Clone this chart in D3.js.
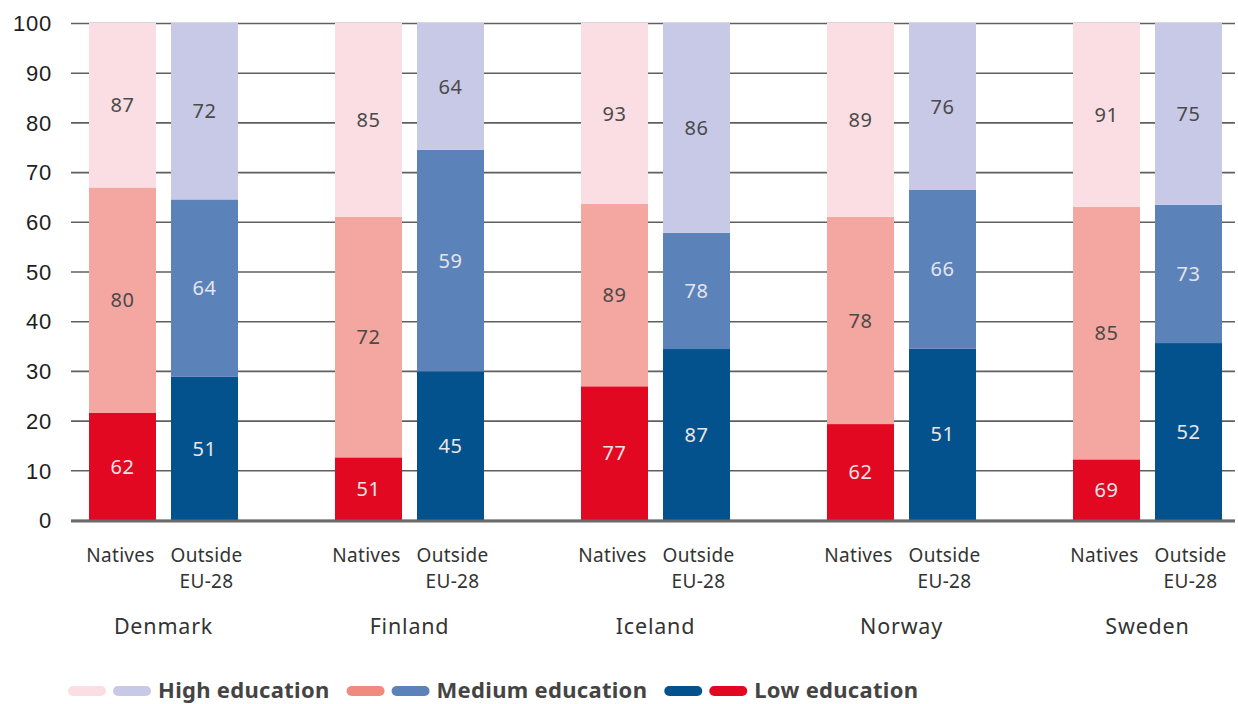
<!DOCTYPE html>
<html>
<head>
<meta charset="utf-8">
<script src="https://cdn.jsdelivr.net/npm/d3@7"></script>
<style>
  html, body { margin: 0; padding: 0; background: #fff; }
  svg { display: block; font-family: "Noto Sans", "Open Sans", sans-serif; }
</style>
</head>
<body>
<svg id="chart" width="1238" height="704"></svg>
<script>
// Countries and population groups
const countries = ["Denmark", "Finland", "Iceland", "Norway", "Sweden"];
const groups = ["Natives", "Outside EU-28"];
const levels = ["low", "medium", "high"];
const yTicks = [0, 10, 20, 30, 40, 50, 60, 70, 80, 90, 100];

// Share of each education level in the population (%), segment heights
const lowShareNatives    = [21.6, 12.6, 26.9, 19.3, 12.2];
const mediumShareNatives = [45.3, 48.4, 36.7, 41.7, 50.8];
const highShareNatives   = [33.1, 39.0, 36.4, 39.0, 37.0];
const lowShareOutside    = [28.8, 29.9, 34.4, 34.5, 35.6];
const mediumShareOutside = [35.7, 44.6, 23.4, 31.9, 27.8];
const highShareOutside   = [35.5, 25.5, 42.2, 33.6, 36.6];

// Employment rate of each education level (%), printed inside segments
const lowRateNatives    = [62, 51, 77, 62, 69];
const mediumRateNatives = [80, 72, 89, 78, 85];
const highRateNatives   = [87, 85, 93, 89, 91];
const lowRateOutside    = [51, 45, 87, 51, 52];
const mediumRateOutside = [64, 59, 78, 66, 73];
const highRateOutside   = [72, 64, 86, 76, 75];

// Legend entries
const legendLabels = ["High education", "Medium education", "Low education"];

const colors = {
  "Natives":       { low: "#e30822", medium: "#f4a6a0", high: "#fbdee3" },
  "Outside EU-28": { low: "#03528e", medium: "#5b83ba", high: "#c8c9e6" }
};
const legendSwatches = [
  ["#fbdee3", "#c8c9e6"],
  ["#f08a7e", "#5b83ba"],
  ["#03528e", "#e30822"]
];
const labelColor = { low: "#ebe6e6", medium: { "Natives": "#4a4a4a", "Outside EU-28": "#e6e4ea" }, high: "#4a4a4a" };

const shares = {
  "Natives":       { low: lowShareNatives, medium: mediumShareNatives, high: highShareNatives },
  "Outside EU-28": { low: lowShareOutside, medium: mediumShareOutside, high: highShareOutside }
};
const rates = {
  "Natives":       { low: lowRateNatives, medium: mediumRateNatives, high: highRateNatives },
  "Outside EU-28": { low: lowRateOutside, medium: mediumRateOutside, high: highRateOutside }
};

// Build a flat table of stacked segments
const rows = [];
countries.forEach((c, i) => {
  groups.forEach(g => {
    let acc = 0;
    levels.forEach(l => {
      const v = shares[g][l][i];
      rows.push({ country: c, group: g, level: l, y0: acc, y1: acc + v, rate: rates[g][l][i] });
      acc += v;
    });
  });
});

const svg = d3.select("#chart");
const plotLeft = 71, plotRight = 1235;

const y = d3.scaleLinear().domain([0, 100]).range([520, 23]);
const x0 = d3.scaleBand().domain(countries).range([89, 1222]).paddingInner(97 / 246).paddingOuter(0);
const x1 = d3.scaleBand().domain(groups).range([0, x0.bandwidth()]).paddingInner(15 / 82).paddingOuter(0);

// Gridlines and value axis
const yAxis = d3.axisLeft(y).tickValues(yTicks).tickSize(-(plotRight - plotLeft)).tickPadding(19);
const gAxis = svg.append("g").attr("transform", `translate(${plotLeft},0)`).call(yAxis);
gAxis.select(".domain").remove();
gAxis.selectAll(".tick line").attr("stroke", "#5f5f5f").attr("stroke-width", 1.6);
gAxis.selectAll(".tick text")
  .attr("fill", "#1e1e1e").style("font-size", "22px").style("letter-spacing", "0.8px").attr("dy", "0.35em");

// Bars
svg.append("g").selectAll("rect").data(rows).join("rect")
  .attr("x", d => x0(d.country) + x1(d.group))
  .attr("width", x1.bandwidth())
  .attr("y", d => y(d.y1) - 2)
  .attr("height", d => y(d.y0) - y(d.y1))
  .attr("fill", d => colors[d.group][d.level])
  .attr("transform", "translate(0,2)");

// Baseline
svg.append("line")
  .attr("x1", plotLeft).attr("x2", plotRight)
  .attr("y1", y(0) + 1).attr("y2", y(0) + 1)
  .attr("stroke", "#6a6a6a").attr("stroke-width", 3);

// Segment labels
svg.append("g").selectAll("text").data(rows).join("text")
  .attr("x", d => x0(d.country) + x1(d.group) + x1.bandwidth() / 2)
  .attr("y", d => (y(d.y0) + y(d.y1)) / 2)
  .attr("dy", "0.36em")
  .attr("text-anchor", "middle")
  .style("font-size", "20px")
  .style("letter-spacing", "0.5px")
  .attr("fill", d => d.level === "medium" ? labelColor.medium[d.group] : labelColor[d.level])
  .text(d => d.rate);

// Group labels under each bar
const catG = svg.append("g").style("font-size", "19px").style("letter-spacing", "0.3px").attr("fill", "#333");
countries.forEach(c => {
  groups.forEach(g => {
    const cx = x0(c) + x1(g) + x1.bandwidth() / 2 + (g === "Natives" ? -2 : 2);
    const parts = g === "Natives" ? ["Natives"] : ["Outside", "EU-28"];
    parts.forEach((p, k) => {
      catG.append("text").attr("x", cx).attr("y", 562 + k * 26)
        .attr("text-anchor", "middle").text(p);
    });
  });
});

// Country names
svg.append("g").selectAll("text").data(countries).join("text")
  .attr("x", c => x0(c) + x0.bandwidth() / 2)
  .attr("y", 634)
  .attr("text-anchor", "middle")
  .style("font-size", "21.5px")
  .style("letter-spacing", "0.8px")
  .attr("fill", "#333")
  .text(c => c);

// Legend
const lg = svg.append("g").attr("transform", "translate(68,691)");
let lx = 0;
legendLabels.forEach((lab, i) => {
  legendSwatches[i].forEach((col, k) => {
    lg.append("rect").attr("x", lx).attr("y", -5).attr("width", 38).attr("height", 10)
      .attr("rx", 5).attr("fill", col);
    lx += 45;
  });
  const t = lg.append("text").attr("x", lx).attr("y", 0).attr("dy", "0.34em")
    .style("font-size", "22px").style("font-weight", "bold").style("letter-spacing", "0.3px")
    .attr("fill", "#444").text(lab);
  lx += t.node().getComputedTextLength() + 17;
});
</script>
</body>
</html>
